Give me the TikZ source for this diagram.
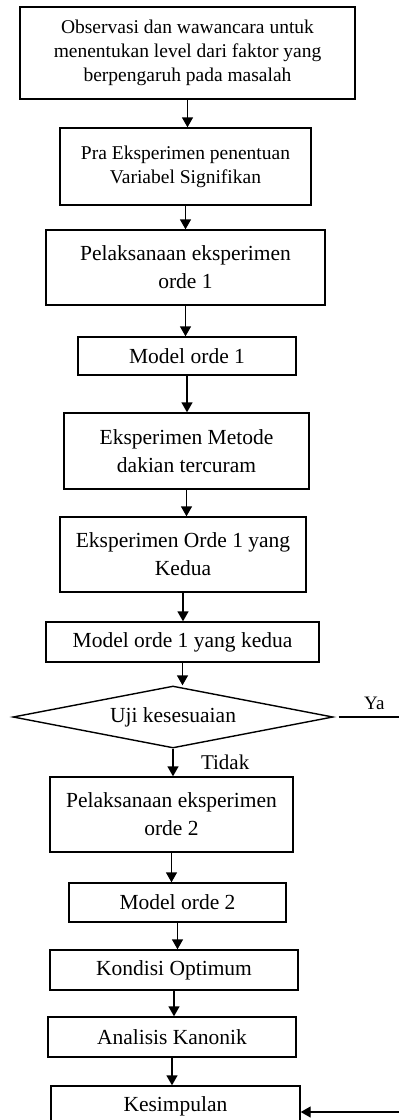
\documentclass[tikz,border=0pt]{standalone}
\usepackage{fontspec}
\setmainfont{Liberation Serif}
\usetikzlibrary{positioning, shapes.geometric, arrows.meta}

\begin{document}
\begin{tikzpicture}[x=1pt, y=-1pt, line width=1.4pt,
    box/.style={draw, rectangle, align=center, inner sep=0pt, font=\fontsize{21.5}{28}\selectfont},
    smalltext/.style={font=\fontsize{19.5}{24}\selectfont},
    arrow/.style={-{Triangle[length=10pt, width=11pt]}}]
  \useasboundingbox (0,0) rectangle (399,1120);
  \clip (0,0) rectangle (399,1120);

  \node[box, smalltext, minimum width=335pt, minimum height=92pt](observasi) at (187.5,53) {Observasi dan wawancara untuk\\menentukan level dari faktor yang\\berpengaruh pada masalah};
  \node[box, smalltext, minimum width=251pt, minimum height=77pt](praeksperimen) at (185.5,166.5) {Pra Eksperimen penentuan\\Variabel Signifikan};
  \node[box, minimum width=279pt, minimum height=75pt](orde1) at (185.5,267.5) {Pelaksanaan eksperimen\\orde 1};
  \node[box, minimum width=218pt, minimum height=38pt](model1) at (187,356) {Model orde 1};
  \node[box, minimum width=245pt, minimum height=76pt](dakian) at (186.5,451) {Eksperimen Metode\\dakian tercuram};
  \node[box, minimum width=246pt, minimum height=75pt](orde1kedua) at (183,554.5) {Eksperimen Orde 1 yang\\Kedua};
  \node[box, minimum width=273pt, minimum height=40pt](model1kedua) at (182.5,642) {Model orde 1 yang kedua};
  \node[draw, diamond, aspect=5.2, inner sep=0pt, minimum width=320pt, minimum height=62pt, font=\fontsize{21.5}{28}\selectfont](uji) at (173,717) {Uji kesesuaian};
  \node[box, minimum width=243pt, minimum height=75pt](orde2) at (171.5,814.5) {Pelaksanaan eksperimen\\orde 2};
  \node[box, minimum width=217pt, minimum height=39pt](model2) at (177.5,902.5) {Model orde 2};
  \node[box, minimum width=248pt, minimum height=40pt](optimum) at (174,970) {Kondisi Optimum};
  \node[box, minimum width=248pt, minimum height=40pt](kanonik) at (172,1037) {Analisis Kanonik};
  \node[box, minimum width=249pt, minimum height=40pt](kesimpulan) at (175.5,1106) {Kesimpulan};
  \coordinate (ya) at (415,717);

  \draw[arrow] (observasi) -- (observasi |- praeksperimen.north);
  \draw[arrow] (praeksperimen) -- (praeksperimen |- orde1.north);
  \draw[arrow] (orde1) -- (orde1 |- model1.north);
  \draw[arrow] (model1) -- (model1 |- dakian.north);
  \draw[arrow] (dakian) -- (dakian |- orde1kedua.north);
  \draw[arrow] (orde1kedua) -- (orde1kedua |- model1kedua.north);
  \draw[arrow] (model1kedua) -- (model1kedua |- uji.north);
  \draw[arrow] (uji) -- node[right=24pt, font=\fontsize{21}{26}\selectfont]{Tidak} (uji |- orde2.north);
  \draw[arrow] (orde2) -- (orde2 |- model2.north);
  \draw[arrow] (model2) -- (model2 |- optimum.north);
  \draw[arrow] (optimum) -- (optimum |- kanonik.north);
  \draw[arrow] (kanonik) -- (kanonik |- kesimpulan.north);
  \draw[arrow, shorten <=5pt] (uji.east) -- node[above=3pt, font=\fontsize{19}{24}\selectfont]{Ya} (ya) |- ([yshift=-6pt]kesimpulan.east);
\end{tikzpicture}
\end{document}
